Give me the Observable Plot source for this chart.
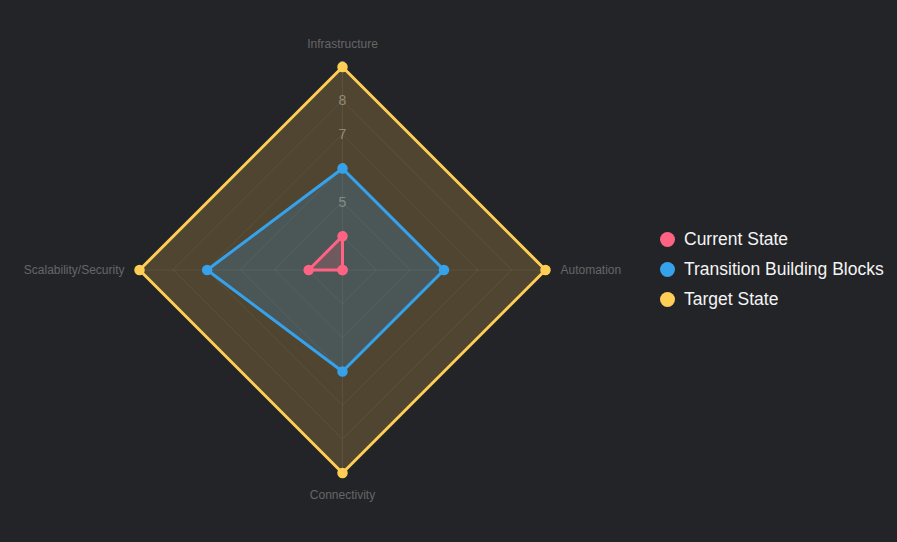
<!DOCTYPE html>
<html>
<head>
<meta charset="utf-8">
<script src="https://cdn.jsdelivr.net/npm/d3@7"></script>
<script src="https://cdn.jsdelivr.net/npm/@observablehq/plot@0.6"></script>
<style>
  html, body { margin: 0; padding: 0; background: #232428; }
  #wrap { position: relative; width: 897px; height: 542px; font-family: "Liberation Sans", Arial, Helvetica, sans-serif; }
  #legend { position: absolute; left: 660px; top: 224px; }
  .item { display: flex; align-items: center; height: 30px; color: #f4f4f4; font-size: 17.5px; }
  .sw { width: 15px; height: 15px; border-radius: 50%; margin-right: 9px; }
</style>
</head>
<body>
<div id="wrap"></div>
<script>
const axes = ["Infrastructure", "Automation", "Connectivity", "Scalability/Security"];
const seriesNames = ["Current State", "Transition Building Blocks", "Target State"];
const currentState = [4, 3, 3, 4];
const transitionBlocks = [6, 6, 6, 7];
const targetState = [9, 9, 9, 9];
const colors = ["#ff6384", "#36a2eb", "#ffce56"];
const ticks = [4, 5, 6, 7, 8, 9];
const rMin = 3, rMax = 9;

const W = 897, H = 542, cx = 342, cy = 269.5, R = 203;
const unit = R / (rMax - rMin);

// angle for each axis: top, right, bottom, left
const ang = i => Math.PI / 2 - i * 2 * Math.PI / axes.length;
const pt = (v, i) => ({x: (v - rMin) * Math.cos(ang(i)), y: (v - rMin) * Math.sin(ang(i))});

const allSeries = [currentState, transitionBlocks, targetState];
const rows = [];
allSeries.forEach((vals, s) => vals.forEach((v, i) => rows.push({series: seriesNames[s], s, axis: axes[i], i, v, ...pt(v, i)})));

const grid = [];
ticks.forEach(t => axes.forEach((a, i) => grid.push({t, i, ...pt(t, i)})));
const spokes = [];
axes.forEach((a, i) => { spokes.push({i, ...pt(rMin, i)}); spokes.push({i, ...pt(rMax, i)}); });

const tickLabels = ticks.map(t => ({t, ...pt(t, 0)}));
const axisLabels = axes.map((a, i) => ({a, i, ...pt(rMax, i)}));
const labelAnchor = ["middle", "start", "middle", "end"];
const labelDx = [0, 15, 0, -15];
const labelDy = [-23, 0, 22, 0];

const drawOrder = [2, 1, 0];
const marks = [
  Plot.line(spokes, {x: "x", y: "y", z: "i", stroke: "#ffffff", strokeOpacity: 0.07, strokeWidth: 1}),
  Plot.line(grid, {x: "x", y: "y", z: "t", curve: "linear-closed", stroke: "#ffffff", strokeOpacity: 0.07, strokeWidth: 1}),
  Plot.text(tickLabels, {x: "x", y: "y", text: "t", fill: "#ffffff", fillOpacity: 0.4, fontSize: 14, fontFamily: "Liberation Sans, Arial, sans-serif"}),
  ...axes.map((a, i) => Plot.text(axisLabels.filter(d => d.i === i), {x: "x", y: "y", text: "a", fill: "#666666", fontSize: 12, textAnchor: labelAnchor[i], dx: labelDx[i], dy: labelDy[i], fontFamily: "Liberation Sans, Arial, sans-serif"}))
];
drawOrder.forEach(s => {
  const d = rows.filter(r => r.s === s);
  marks.push(Plot.line(d, {x: "x", y: "y", curve: "linear-closed", stroke: colors[s], strokeWidth: 3, fill: colors[s], fillOpacity: 0.2, strokeLinejoin: "miter"}));
});
drawOrder.forEach(s => {
  const d = rows.filter(r => r.s === s);
  marks.push(Plot.dot(d, {x: "x", y: "y", r: 4.5, fill: colors[s], stroke: colors[s]}));
});

const chart = Plot.plot({
  width: W, height: H,
  margin: 0,
  style: {background: "#232428", overflow: "visible"},
  x: {domain: [-cx / unit, (W - cx) / unit], range: [0, W], axis: null},
  y: {domain: [-(H - cy) / unit, cy / unit], range: [H, 0], axis: null},
  marks
});
const wrap = document.getElementById("wrap");
wrap.appendChild(chart);

const legend = document.createElement("div");
legend.id = "legend";
seriesNames.forEach((n, s) => {
  const it = document.createElement("div");
  it.className = "item";
  it.innerHTML = `<span class="sw" style="background:${colors[s]}"></span><span>${n}</span>`;
  legend.appendChild(it);
});
wrap.appendChild(legend);
</script>
</body>
</html>
